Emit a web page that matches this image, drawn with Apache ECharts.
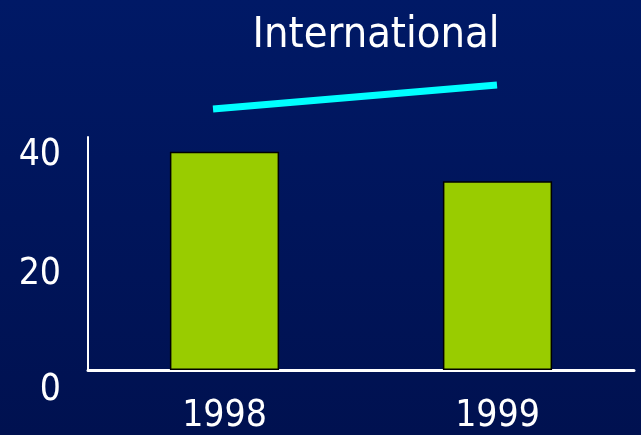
<!DOCTYPE html>
<html>
<head>
<meta charset="utf-8">
<script src="https://cdn.jsdelivr.net/npm/echarts@6/dist/echarts.min.js"></script>
<style>
  html, body { margin: 0; padding: 0; background: #001760; }
  #chart { width: 641px; height: 435px; }
</style>
</head>
<body>
<div id="chart"></div>
<script>
// Yearly values for the International segment
const years = ['1998', '1999'];
const values = [40, 34.6];
const yTicks = [0, 20, 40];

const FONT = '"Liberation Sans Narrow", "Arial Narrow", "DejaVu Sans Condensed", sans-serif';

// Per-tick nudges for the value labels (pixels downward)
const labelShift = { 0: 20, 20: 14, 40: 4 };

const chart = echarts.init(document.getElementById('chart'), null, { renderer: 'canvas' });

chart.setOption({
  backgroundColor: {
    type: 'linear', x: 0, y: 0, x2: 0, y2: 1,
    colorStops: [
      { offset: 0, color: '#001966' },
      { offset: 1, color: '#001150' }
    ]
  },
  title: {
    text: 'International',
    left: 371,
    top: 9,
    textAlign: 'center',
    textStyle: { color: '#ffffff', fontFamily: FONT, fontSize: 43, fontWeight: 'normal' }
  },
  graphic: [{
    type: 'line',
    shape: { x1: 213, y1: 109, x2: 497, y2: 85 },
    style: { stroke: '#00ffff', lineWidth: 7 }
  }],
  grid: { left: 88, right: 7, top: 137, bottom: 60 },
  xAxis: {
    type: 'category',
    data: years,
    axisLine: { lineStyle: { color: '#ffffff', width: 3 } },
    axisTick: { show: false },
    axisLabel: {
      color: '#ffffff', fontFamily: FONT, fontSize: 37, margin: 28
    }
  },
  yAxis: {
    type: 'value',
    min: 0,
    max: 42.7,
    interval: 20,
    splitLine: { show: false },
    axisTick: { show: false },
    axisLine: { show: true, lineStyle: { color: '#ffffff', width: 2 } },
    axisLabel: {
      margin: 27,
      formatter: function (v) {
        if (yTicks.indexOf(v) < 0) return '';
        return '{t' + v + '|' + v + '}';
      },
      rich: Object.fromEntries(yTicks.map(v => ['t' + v, {
        color: '#ffffff', fontFamily: FONT, fontSize: 37,
        padding: [labelShift[v] * 2, 0, 0, 0]
      }]))
    }
  },
  series: [{
    type: 'bar',
    data: values,
    barWidth: '40%',
    itemStyle: { color: '#99cc00', borderColor: '#000000', borderWidth: 1.5 },
    animation: false
  }],
  animation: false
});
</script>
</body>
</html>
